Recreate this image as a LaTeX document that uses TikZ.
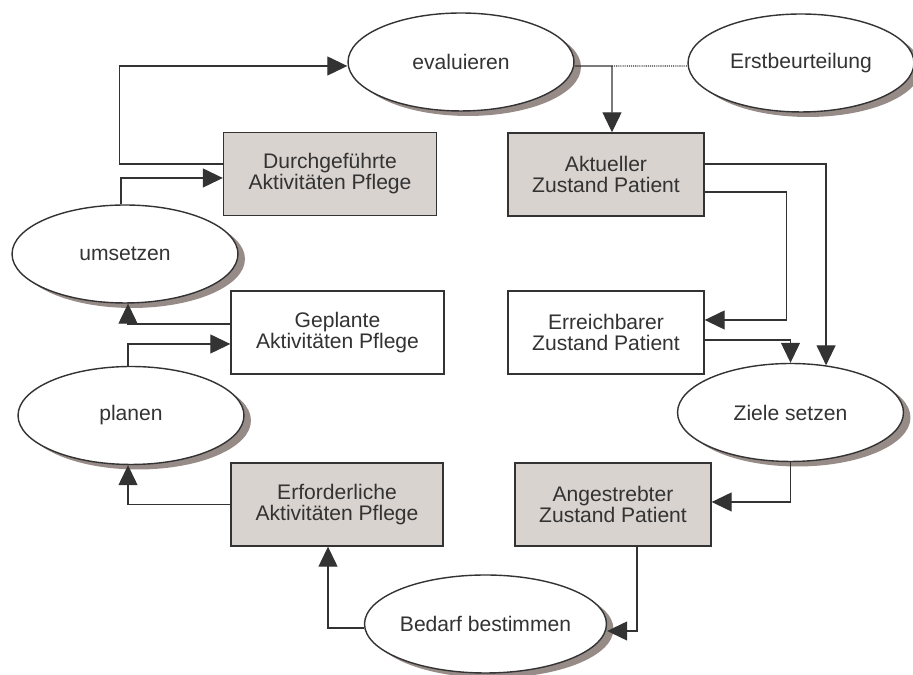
\documentclass[tikz,border=0pt]{standalone}
\usepackage{fontspec}
\setmainfont{Liberation Sans}
\usetikzlibrary{shapes.geometric,shadows,arrows.meta}
\definecolor{linie}{HTML}{333333}
\definecolor{grau}{HTML}{D9D3CF}
\definecolor{schatten}{HTML}{978B87}
\tikzset{
  zyklus/.style={ellipse, draw=linie, fill=white, line width=0.8pt, minimum width=4.52cm, minimum height=1.96cm, inner sep=0pt, text=linie, font=\fontsize{12}{12}\selectfont, drop shadow={shadow xshift=0.14cm, shadow yshift=-0.1cm, fill=schatten, opacity=1}},
  feld/.style={rectangle, draw=linie, fill=grau, line width=0.8pt, minimum height=1.66cm, inner sep=0pt, align=center, text=linie, font=\fontsize{12}{12}\selectfont},
  feldweiss/.style={feld, fill=white},
  pfeil/.style={draw=linie, line width=0.7pt, -{Triangle[length=0.4cm, width=0.38cm]}}
}

\begin{document}
\begin{tikzpicture}[x=0.02cm, y=0.02cm]
\useasboundingbox (0,0) rectangle (913,675);
\node (eval) at (461,613) [zyklus] {evaluieren};
\node (erst) at (801,612) [zyklus] {Erstbeurteilung};
\node (durch) at (330,501) [feld, minimum width=4.26cm] {Durchgeführte\\Aktivitäten Pflege};
\node (aktuell) at (606,500.5) [feld, minimum width=3.92cm] {Aktueller\\Zustand Patient};
\node (umsetzen) at (125,421) [zyklus] {umsetzen};
\node (geplant) at (337.5,342.5) [feldweiss, minimum width=4.26cm] {Geplante\\Aktivitäten Pflege};
\node (erreich) at (606,342.5) [feldweiss, minimum width=3.92cm] {Erreichbarer\\Zustand Patient};
\node (planen) at (131,259.5) [zyklus] {planen};
\node (ziele) at (790.5,262.5) [zyklus] {Ziele setzen};
\node (erford) at (337,170.5) [feld, minimum width=4.24cm] {Erforderliche\\Aktivitäten Pflege};
\node (angestr) at (613,170.5) [feld, minimum width=3.92cm] {Angestrebter\\Zustand Patient};
\node (bedarf) at (485.5,51) [zyklus] {Bedarf bestimmen};
\coordinate (knick) at (612,609);

\draw [pfeil] ([yshift=0.2cm]durch.west) -- ++(-103,0) |- ([yshift=-0.08cm]eval.west);
\draw [pfeil] ([xshift=-0.08cm]umsetzen.north) |- ([yshift=-0.08cm]durch.west);
\draw [pfeil] ([yshift=0.17cm]geplant.west) -| ([xshift=0.06cm]umsetzen.south);
\draw [pfeil] ([xshift=-0.06cm]planen.north) |- ([yshift=-0.23cm]geplant.west);
\draw [pfeil] (erford.west) -| ([xshift=-0.06cm]planen.south);
\draw [pfeil] ([yshift=-0.08cm]bedarf.west) -| ([xshift=-0.18cm]erford.south);
\draw [pfeil] ([xshift=0.48cm]angestr.south) |- ([yshift=-0.14cm]bedarf.east);
\draw [pfeil] (ziele.south) |- ([yshift=0.05cm]angestr.east);
\draw [pfeil] ([yshift=-0.15cm]erreich.east) -| (ziele.north);
\draw [pfeil] ([yshift=0.21cm]aktuell.east) -| (ziele.53);
\draw [pfeil] ([yshift=-0.35cm]aktuell.east) -- ++(82,0) |- ([yshift=0.25cm]erreich.east);
\draw [pfeil] ([yshift=-0.08cm]eval.east) -- (knick) -| ([xshift=0.12cm]aktuell.north);
\draw [draw=linie, line width=0.6pt, dash pattern=on 0.6pt off 0.6pt] (knick) -- ([yshift=-0.06cm]erst.west);
\end{tikzpicture}
\end{document}
